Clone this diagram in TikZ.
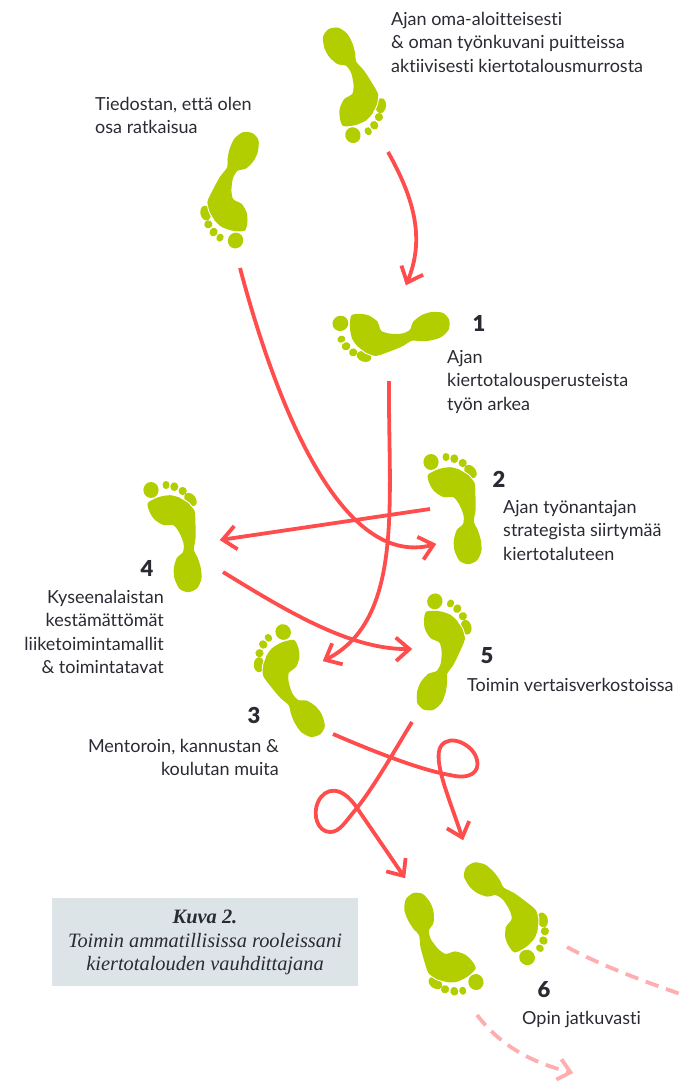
\documentclass[tikz,border=0pt]{standalone}
\usepackage{fontspec}
\setmainfont{Lato}[Ligatures=NoCommon]
\newfontfamily\capfont{Liberation Serif}
\newfontfamily\numfont{Lato Black}
\usetikzlibrary{arrows.meta}
\definecolor{footgreen}{HTML}{B2CE00}
\definecolor{redline}{HTML}{FF4D4D}
\definecolor{pinkline}{HTML}{FFAEB0}
\definecolor{inktext}{HTML}{2A2A33}
\definecolor{capbox}{HTML}{DDE4E8}
\pgfdeclarearrow{
  name=VBarb,
  parameters={\the\pgfarrowlength},
  setup code={\pgfarrowssettipend{2.6pt}\pgfarrowssetlineend{-1pt}\pgfarrowssetbackend{-\pgfarrowlength}\pgfarrowssetvisualbackend{-1pt}\pgfarrowssavethe\pgfarrowlength},
  drawing code={\pgfsetdash{}{0pt}\pgfsetbuttcap\pgfsetmiterjoin\pgfpathmoveto{\pgfpoint{-\pgfarrowlength}{.87\pgfarrowlength}}\pgfpathlineto{\pgfpointorigin}\pgfpathlineto{\pgfpoint{-\pgfarrowlength}{-.87\pgfarrowlength}}\pgfusepathqstroke},
  defaults={length=13.5pt}
}
\tikzset{
  rline/.style={draw=redline,line width=3.8pt,-{VBarb}},
  pline/.style={draw=pinkline,line width=3.8pt,dash pattern=on 13.5pt off 8pt},
  bodytext/.style={text=inktext,inner sep=0pt,font=\fontsize{18}{23.4}\selectfont},
  numtext/.style={text=inktext,inner sep=0pt,font=\numfont\fontsize{22}{23}\selectfont},
  capline/.style={text=inktext,inner sep=0pt,font=\capfont\itshape\fontsize{20.4}{23.5}\selectfont,align=center}
}
% foot: centre x, centre y, rotation, mirror
\newcommand{\foot}[4]{%
 \begin{scope}[shift={(#1,#2)},rotate=#3,xscale=#4]
  \fill[footgreen,rotate around={-50:(18.5,-35.5)}] (18.5,-35.5) ellipse[x radius=7.5,y radius=5.2];
  \fill[footgreen] plot[smooth cycle,tension=.45] coordinates {
   (-24.2,-32)(-13.7,-37.8)(-2,-39.8)(8,-37.2)(16.3,-32.2)(22.5,-25)(23.5,-10)(23.5,3.3)(21.8,15)(25.2,21.7)(28.5,31.7)(29.5,43.3)(25.2,53.2)(16.3,57.2)(7.5,53.8)(2.5,43.3)(1.8,33.3)(4.8,23)(11,17)(11.5,8.3)(7,-3)(1,-10)(-8.7,-10)(-17.5,-15.5)(-22.5,-23.3)};
  \draw[white,line width=.9pt] plot[smooth,tension=.45] coordinates {(8,-37.6)(16.3,-32.6)(22.9,-25)(24,-20)};
  \fill[footgreen] (-21,-45) ellipse[x radius=7.6,y radius=8];
  \fill[footgreen] (-6,-50) ellipse[x radius=3.5,y radius=4.1];
  \fill[footgreen] (2.3,-48.3) ellipse[x radius=4,y radius=4.4];
  \fill[footgreen] (10.7,-44) ellipse[x radius=4.1,y radius=4.1];
 \end{scope}}
\begin{document}
\begin{tikzpicture}[x=1pt,y=-1pt]
\useasboundingbox (0,0) rectangle (685,1081);
\fill[capbox] (52,898) rectangle (358,986);
\foot{346}{86}{213}{-1}
\foot{239}{191}{151}{1}
\foot{390}{326}{112}{-1}
\foot{452}{507}{0}{1}
\foot{172}{535}{0}{1}
\foot{434}{651}{-26}{1}
\foot{296}{680}{40}{-1}
\foot{444}{944}{195}{1}
\foot{503}{914}{-126}{-1}

\coordinate (a0) at (388,152); \coordinate (a1) at (406,285);
\coordinate (b0) at (240,268); \coordinate (b1) at (436,544);
\coordinate (c0) at (389,381); \coordinate (c1) at (323,661);
\coordinate (d0) at (430,509); \coordinate (d1) at (220,540);
\coordinate (e0) at (223,572); \coordinate (e1) at (412,649);
\coordinate (f0) at (333,734); \coordinate (f1) at (463,840);
\coordinate (g0) at (412,722); \coordinate (g1) at (405,878);
\coordinate (h0) at (567,947); \coordinate (h1) at (692,998);
\coordinate (i0) at (477,1015); \coordinate (i1) at (573,1073);

\draw[rline] (a0) .. controls (415,200) and (425,240) .. (a1);
\draw[rline] (b0) .. controls (275,400) and (340,570) .. (b1);
\draw[rline] (c0) .. controls (388,500) and (405,620) .. (c1);
\draw[rline] (d0) -- (d1);
\draw[rline] (e0) .. controls (285,610) and (350,650) .. (e1);
\draw[rline] (f0) .. controls (370,750) and (420,770) .. (450,775)
   .. controls (470,780) and (480,772) .. (477,760)
   .. controls (474,745) and (450,733) .. (441,746)
   .. controls (432,760) and (450,800) .. (f1);
\draw[rline] (g0) .. controls (395,750) and (375,785) .. (357,808)
   .. controls (345,822) and (340,832) .. (330,832)
   .. controls (318,832) and (312,815) .. (318,802)
   .. controls (325,787) and (342,785) .. (357,808)
   -- (g1);
\draw[pline] (h0) .. controls (600,965) and (645,982) .. (h1);
\draw[pline,-{VBarb[length=12pt]}] (i0) .. controls (500,1045) and (530,1062) .. (i1);

\node[bodytext,anchor=north west,align=left] (t0) at (391,12) {Ajan oma-aloitteisesti\\\& oman työnkuvani puitteissa\\aktiivisesti kiertotalousmurrosta};
\node[bodytext,anchor=north west,align=left] (t7) at (95,97) {Tiedostan, että olen\\osa ratkaisua};
\node[numtext] (n1) at (479,323) {1};
\node[bodytext,anchor=north west,align=left] (t1) at (447,350) {Ajan\\kiertotalousperusteista\\työn arkea};
\node[numtext] (n2) at (499,479) {2};
\node[bodytext,anchor=north west,align=left] (t2) at (503,500) {Ajan työnantajan\\strategista siirtymää\\kiertotaluteen};
\node[numtext] (n4) at (147,568) {4};
\node[bodytext,anchor=north east,align=right] (t4) at (164,590) {Kyseenalaistan\\kestämättömät\\liiketoimintamallit\\\& toimintatavat};
\node[numtext] (n5) at (487,656) {5};
\node[bodytext,anchor=west] (t5) at (467,685) {Toimin vertaisverkostoissa};
\node[numtext] (n3) at (254,715) {3};
\node[bodytext,anchor=north east,align=right] (t3) at (279,739) {Mentoroin, kannustan \&\\koulutan muita};
\node[numtext] (n6) at (544,990) {6};
\node[bodytext,anchor=west] (t6) at (522,1019) {Opin jatkuvasti};
\node[capline] (cap) at (205,942.5) {{\bfseries Kuva 2.}\\Toimin ammatillisissa rooleissani\\kiertotalouden vauhdittajana};
\end{tikzpicture}
\end{document}
